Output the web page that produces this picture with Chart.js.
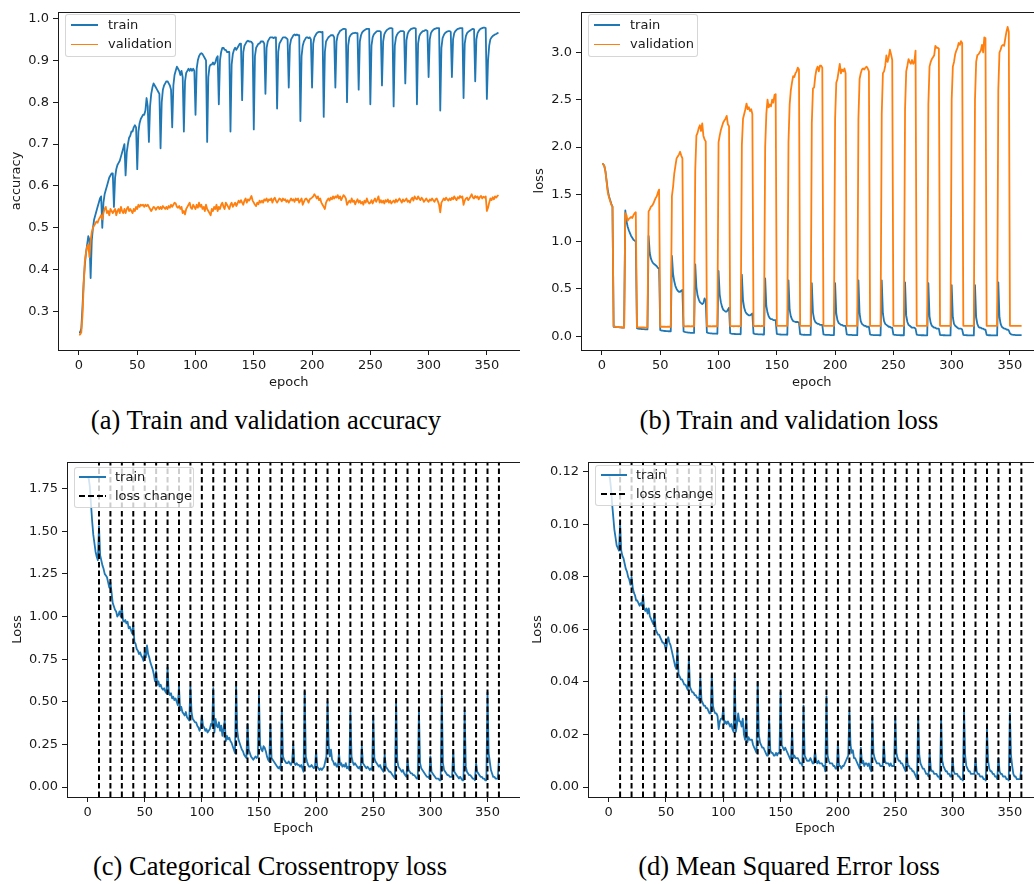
<!DOCTYPE html>
<html>
<head>
<meta charset="utf-8">
<script src="https://cdn.jsdelivr.net/npm/chart.js@4.4.2/dist/chart.umd.min.js"></script>
<style>
  html, body { margin: 0; padding: 0; background: #fff; overflow: hidden; }
  body { width: 1034px; height: 884px; position: relative; }
  canvas { position: absolute; }
  .legend { position: absolute; box-sizing: border-box; border: 1px solid rgba(204,204,204,0.8); border-radius: 3px;
            background: rgba(255,255,255,0.8); font-family: "DejaVu Sans", sans-serif; font-size: 13px; color: #1a1a1a; z-index: 2; }
  .legend .sw { position: absolute; height: 1.8px; }
  .legend .lb { position: absolute; line-height: 16px; white-space: nowrap; }
  .caption { position: absolute; width: 600px; text-align: center; font-family: "Liberation Serif", "Times New Roman", serif;
             font-size: 26.5px; line-height: 30px; color: #000; }
</style>
</head>
<body>
<canvas id="chartA" width="520" height="400" style="left:0px;top:0px"></canvas>
<canvas id="chartB" width="540" height="400" style="left:520px;top:0px"></canvas>
<canvas id="chartC" width="520" height="400" style="left:0px;top:450px"></canvas>
<canvas id="chartD" width="540" height="400" style="left:520px;top:450px"></canvas>

<div class="caption" style="left:-34px;top:405px">(a) Train and validation accuracy</div>
<div class="caption" style="left:489px;top:405px">(b) Train and validation loss</div>
<div class="caption" style="left:-30px;top:851px">(c) Categorical Crossentropy loss</div>
<div class="caption" style="left:489px;top:851px">(d) Mean Squared Error loss</div>

<script>
// ---- data (one value per epoch, 0..360) ----
const accTrain = [
  0.25,0.25,0.26,0.31,0.37,0.41,0.44,0.46,0.48,0.47,
  0.38,0.47,0.50,0.52,0.53,0.54,0.55,0.56,0.57,0.575,
  0.50,0.56,0.58,0.59,0.60,0.61,0.62,0.625,0.63,0.63,
  0.55,0.62,0.64,0.65,0.655,0.66,0.67,0.68,0.69,0.70,
  0.625,0.68,0.70,0.715,0.72,0.73,0.73,0.74,0.745,0.74,
  0.64,0.73,0.75,0.76,0.765,0.77,0.77,0.78,0.81,0.79,
  0.705,0.79,0.82,0.835,0.845,0.84,0.835,0.83,0.825,0.82,
  0.69,0.80,0.83,0.84,0.845,0.85,0.85,0.845,0.84,0.83,
  0.74,0.84,0.865,0.875,0.885,0.88,0.875,0.865,0.875,0.86,
  0.73,0.85,0.87,0.875,0.88,0.875,0.88,0.875,0.88,0.875,
  0.77,0.88,0.90,0.91,0.915,0.917,0.915,0.91,0.905,0.90,
  0.705,0.86,0.885,0.89,0.89,0.895,0.89,0.895,0.905,0.91,
  0.795,0.90,0.92,0.93,0.93,0.925,0.925,0.92,0.92,0.92,
  0.73,0.89,0.915,0.925,0.93,0.925,0.93,0.935,0.94,0.94,
  0.805,0.92,0.935,0.94,0.945,0.947,0.945,0.945,0.944,0.94,
  0.735,0.91,0.93,0.935,0.94,0.94,0.945,0.945,0.945,0.94,
  0.82,0.93,0.945,0.95,0.955,0.955,0.955,0.953,0.955,0.955,
  0.785,0.92,0.94,0.945,0.95,0.955,0.955,0.955,0.953,0.95,
  0.835,0.935,0.95,0.955,0.96,0.962,0.96,0.962,0.96,0.96,
  0.755,0.91,0.935,0.945,0.95,0.955,0.955,0.953,0.955,0.95,
  0.835,0.94,0.955,0.96,0.965,0.967,0.968,0.968,0.967,0.968,
  0.765,0.92,0.945,0.95,0.955,0.957,0.96,0.96,0.96,0.955,
  0.835,0.945,0.96,0.965,0.97,0.972,0.974,0.975,0.975,0.974,
  0.80,0.935,0.955,0.96,0.963,0.965,0.965,0.966,0.965,0.965,
  0.83,0.945,0.96,0.967,0.97,0.972,0.974,0.975,0.975,0.975,
  0.795,0.935,0.955,0.962,0.965,0.968,0.97,0.97,0.97,0.968,
  0.84,0.945,0.962,0.968,0.972,0.974,0.976,0.977,0.977,0.976,
  0.79,0.935,0.955,0.962,0.966,0.968,0.97,0.97,0.97,0.968,
  0.845,0.948,0.963,0.969,0.972,0.975,0.976,0.977,0.977,0.976,
  0.795,0.94,0.958,0.964,0.967,0.97,0.97,0.972,0.972,0.97,
  0.86,0.95,0.965,0.97,0.973,0.975,0.976,0.977,0.977,0.977,
  0.78,0.93,0.953,0.96,0.965,0.967,0.969,0.97,0.97,0.968,
  0.86,0.95,0.965,0.97,0.973,0.975,0.976,0.977,0.977,0.977,
  0.81,0.94,0.958,0.965,0.968,0.97,0.972,0.974,0.975,0.974,
  0.85,0.95,0.965,0.97,0.974,0.976,0.977,0.978,0.978,0.977,
  0.808,0.90,0.935,0.95,0.955,0.958,0.96,0.962,0.963,0.965,
  0.966
];
const accVal = [
  0.245,0.245,0.25,0.29,0.36,0.42,0.44,0.455,0.46,0.43,
  0.47,0.49,0.50,0.505,0.51,0.515,0.512,0.52,0.525,0.53,
  0.52,0.535,0.545,0.55,0.535,0.54,0.53,0.545,0.54,0.535,
  0.54,0.545,0.53,0.54,0.545,0.535,0.55,0.54,0.535,0.545,
  0.535,0.545,0.55,0.54,0.545,0.54,0.535,0.545,0.54,0.55,
  0.545,0.555,0.55,0.555,0.553,0.555,0.55,0.555,0.552,0.555,
  0.55,0.545,0.54,0.545,0.55,0.548,0.543,0.548,0.55,0.545,
  0.55,0.545,0.552,0.548,0.545,0.55,0.545,0.552,0.548,0.555,
  0.55,0.555,0.56,0.558,0.55,0.548,0.552,0.545,0.55,0.535,
  0.54,0.532,0.545,0.55,0.555,0.56,0.548,0.545,0.555,0.55,
  0.545,0.555,0.548,0.56,0.55,0.555,0.545,0.55,0.54,0.555,
  0.545,0.54,0.535,0.53,0.545,0.54,0.55,0.545,0.555,0.54,
  0.55,0.545,0.555,0.56,0.55,0.545,0.56,0.555,0.55,0.545,
  0.555,0.56,0.55,0.555,0.56,0.552,0.558,0.565,0.56,0.566,
  0.56,0.555,0.565,0.57,0.56,0.568,0.565,0.57,0.576,0.565,
  0.56,0.555,0.552,0.56,0.556,0.565,0.56,0.565,0.56,0.568,
  0.565,0.57,0.562,0.568,0.566,0.57,0.56,0.568,0.572,0.565,
  0.56,0.565,0.57,0.568,0.563,0.57,0.566,0.568,0.562,0.566,
  0.56,0.565,0.57,0.565,0.568,0.562,0.57,0.566,0.57,0.56,
  0.565,0.57,0.555,0.562,0.568,0.57,0.566,0.56,0.568,0.57,
  0.572,0.575,0.58,0.576,0.57,0.575,0.566,0.57,0.56,0.555,
  0.55,0.545,0.56,0.566,0.57,0.565,0.572,0.568,0.575,0.57,
  0.575,0.572,0.578,0.57,0.575,0.566,0.572,0.578,0.575,0.57,
  0.555,0.56,0.565,0.56,0.57,0.562,0.565,0.556,0.563,0.568,
  0.56,0.565,0.558,0.562,0.555,0.565,0.56,0.57,0.562,0.558,
  0.56,0.566,0.558,0.565,0.57,0.562,0.568,0.575,0.56,0.566,
  0.56,0.565,0.558,0.566,0.562,0.568,0.56,0.565,0.558,0.562,
  0.565,0.56,0.568,0.562,0.566,0.57,0.565,0.56,0.568,0.563,
  0.566,0.57,0.562,0.565,0.56,0.568,0.572,0.565,0.575,0.57,
  0.568,0.575,0.57,0.566,0.572,0.568,0.562,0.566,0.57,0.565,
  0.562,0.568,0.565,0.57,0.566,0.562,0.568,0.57,0.563,0.555,
  0.537,0.56,0.565,0.57,0.566,0.572,0.568,0.565,0.57,0.566,
  0.572,0.568,0.575,0.57,0.566,0.573,0.57,0.576,0.572,0.575,
  0.555,0.565,0.57,0.572,0.566,0.57,0.575,0.58,0.572,0.57,
  0.576,0.572,0.575,0.568,0.573,0.576,0.57,0.574,0.572,0.575,
  0.54,0.548,0.56,0.57,0.566,0.573,0.568,0.575,0.572,0.576,
  0.578
];
const lossTrain = [
  1.82,1.82,1.80,1.74,1.64,1.54,1.48,1.44,1.40,1.37,
  0.10,0.10,0.097,0.096,0.095,0.094,0.093,0.092,0.091,0.09,
  1.33,1.22,1.16,1.12,1.09,1.06,1.04,1.02,1.01,1.00,
  0.085,0.08,0.078,0.077,0.076,0.075,0.074,0.073,0.072,0.072,
  1.06,0.88,0.82,0.79,0.77,0.76,0.75,0.74,0.72,0.72,
  0.065,0.06,0.058,0.056,0.055,0.054,0.053,0.052,0.052,0.05,
  0.85,0.66,0.58,0.53,0.50,0.48,0.47,0.47,0.48,0.49,
  0.05,0.045,0.042,0.04,0.038,0.037,0.036,0.035,0.035,0.034,
  0.76,0.52,0.43,0.39,0.36,0.35,0.34,0.35,0.40,0.37,
  0.04,0.035,0.032,0.03,0.029,0.028,0.028,0.027,0.027,0.026,
  0.69,0.44,0.36,0.31,0.28,0.27,0.26,0.26,0.28,0.30,
  0.032,0.028,0.025,0.024,0.023,0.022,0.022,0.021,0.021,0.02,
  0.65,0.38,0.30,0.26,0.24,0.23,0.22,0.22,0.23,0.24,
  0.03,0.025,0.022,0.021,0.02,0.02,0.019,0.019,0.018,0.018,
  0.61,0.32,0.25,0.21,0.19,0.18,0.18,0.17,0.17,0.17,
  0.025,0.021,0.019,0.018,0.017,0.017,0.016,0.016,0.016,0.015,
  0.59,0.28,0.21,0.18,0.16,0.155,0.15,0.15,0.15,0.145,
  0.022,0.018,0.016,0.015,0.015,0.014,0.014,0.014,0.013,0.013,
  0.56,0.25,0.18,0.15,0.14,0.13,0.13,0.12,0.12,0.12,
  0.02,0.016,0.015,0.014,0.013,0.013,0.012,0.012,0.012,0.012,
  0.56,0.24,0.17,0.14,0.13,0.12,0.12,0.11,0.11,0.11,
  0.02,0.016,0.014,0.013,0.013,0.012,0.012,0.011,0.011,0.011,
  0.59,0.24,0.16,0.13,0.12,0.11,0.11,0.10,0.10,0.10,
  0.018,0.015,0.013,0.012,0.012,0.011,0.011,0.011,0.01,0.01,
  0.59,0.24,0.16,0.13,0.12,0.11,0.10,0.10,0.09,0.09,
  0.018,0.014,0.013,0.012,0.011,0.011,0.01,0.01,0.01,0.01,
  0.57,0.22,0.15,0.12,0.11,0.10,0.09,0.09,0.09,0.08,
  0.016,0.013,0.012,0.011,0.01,0.01,0.01,0.009,0.009,0.009,
  0.56,0.21,0.14,0.11,0.10,0.09,0.09,0.08,0.08,0.08,
  0.015,0.012,0.011,0.01,0.01,0.009,0.009,0.009,0.008,0.008,
  0.54,0.20,0.13,0.11,0.10,0.09,0.08,0.08,0.08,0.07,
  0.015,0.012,0.011,0.01,0.009,0.009,0.009,0.008,0.008,0.008,
  0.54,0.20,0.13,0.10,0.09,0.09,0.08,0.08,0.07,0.07,
  0.014,0.012,0.01,0.01,0.009,0.009,0.008,0.008,0.008,0.008,
  0.57,0.20,0.13,0.10,0.09,0.08,0.08,0.07,0.07,0.06,
  0.03,0.02,0.016,0.014,0.013,0.012,0.012,0.011,0.011,0.011,
  0.011
];
const lossVal = [
  1.82,1.82,1.80,1.74,1.63,1.52,1.47,1.43,1.39,1.37,
  0.105,0.10,0.098,0.097,0.096,0.095,0.094,0.093,0.092,0.09,
  1.30,1.28,1.22,1.24,1.25,1.26,1.25,1.28,1.30,1.31,
  0.095,0.094,0.093,0.093,0.092,0.092,0.092,0.091,0.091,0.09,
  1.32,1.34,1.37,1.38,1.40,1.43,1.46,1.48,1.52,1.55,
  0.10,0.10,0.101,0.10,0.10,0.099,0.10,0.10,0.10,0.10,
  1.48,1.58,1.72,1.80,1.88,1.90,1.92,1.95,1.91,1.88,
  0.105,0.105,0.104,0.105,0.105,0.105,0.104,0.105,0.105,0.105,
  1.75,2.12,2.15,2.20,2.23,2.17,2.25,2.12,2.08,2.06,
  0.106,0.105,0.105,0.105,0.104,0.105,0.105,0.105,0.105,0.105,
  2.05,2.12,2.18,2.22,2.26,2.28,2.30,2.33,2.24,2.22,
  0.107,0.106,0.106,0.105,0.106,0.106,0.106,0.105,0.106,0.106,
  2.02,2.30,2.35,2.40,2.46,2.40,2.42,2.38,2.40,2.35,
  0.108,0.108,0.107,0.108,0.108,0.108,0.107,0.108,0.108,0.108,
  2.00,2.35,2.50,2.42,2.45,2.43,2.50,2.47,2.55,2.56,
  0.11,0.11,0.109,0.11,0.11,0.11,0.11,0.109,0.11,0.11,
  2.05,2.45,2.60,2.68,2.75,2.74,2.78,2.80,2.84,2.82,
  0.11,0.11,0.11,0.11,0.109,0.11,0.11,0.11,0.11,0.11,
  2.25,2.62,2.63,2.75,2.82,2.85,2.80,2.86,2.86,2.84,
  0.11,0.11,0.11,0.109,0.11,0.11,0.11,0.11,0.11,0.11,
  2.30,2.68,2.72,2.80,2.88,2.78,2.82,2.80,2.83,2.78,
  0.11,0.11,0.11,0.11,0.11,0.109,0.11,0.11,0.11,0.11,
  2.30,2.72,2.78,2.82,2.83,2.82,2.84,2.85,2.83,2.80,
  0.11,0.11,0.11,0.11,0.11,0.11,0.11,0.109,0.11,0.11,
  2.35,2.78,2.80,2.86,2.97,2.90,2.95,3.03,2.98,2.92,
  0.11,0.11,0.11,0.11,0.11,0.11,0.109,0.11,0.11,0.11,
  2.40,2.80,2.86,2.93,2.90,2.88,2.92,2.88,2.90,3.02,
  0.11,0.11,0.11,0.11,0.109,0.11,0.11,0.11,0.11,0.11,
  2.45,2.85,2.90,2.93,2.95,2.97,3.07,3.05,3.05,3.04,
  0.11,0.11,0.11,0.11,0.11,0.11,0.11,0.11,0.109,0.11,
  2.50,2.85,2.90,2.98,3.02,3.05,3.10,3.08,3.12,3.10,
  0.11,0.11,0.109,0.11,0.11,0.11,0.11,0.11,0.11,0.11,
  2.50,2.90,2.97,2.98,3.00,3.02,3.08,3.00,3.16,3.15,
  0.11,0.11,0.11,0.11,0.11,0.109,0.11,0.11,0.11,0.11,
  2.60,3.00,3.03,3.07,3.08,3.07,3.15,3.22,3.27,3.22,
  0.11,0.11,0.11,0.11,0.11,0.11,0.11,0.11,0.11,0.11,
  0.11
];
const cceTrain = [
  1.81,1.81,1.76,1.66,1.56,1.48,1.43,1.38,1.35,1.33,
  1.53,1.36,1.33,1.30,1.28,1.25,1.24,1.23,1.20,1.17,
  1.20,1.14,1.08,1.06,1.04,1.03,1.00,1.01,1.03,1.00,
  1.06,0.98,0.97,0.98,0.96,0.97,0.93,0.94,0.92,0.90,
  0.95,0.85,0.84,0.81,0.80,0.78,0.79,0.77,0.76,0.74,
  0.79,0.76,0.83,0.78,0.76,0.73,0.71,0.69,0.66,0.62,
  0.68,0.60,0.62,0.59,0.60,0.58,0.57,0.58,0.56,0.55,
  0.70,0.56,0.54,0.55,0.52,0.53,0.51,0.52,0.50,0.48,
  0.59,0.45,0.47,0.44,0.43,0.42,0.44,0.41,0.40,0.39,
  0.59,0.44,0.40,0.39,0.38,0.38,0.36,0.35,0.33,0.35,
  0.42,0.36,0.35,0.33,0.34,0.32,0.33,0.34,0.37,0.36,
  0.58,0.32,0.40,0.36,0.35,0.38,0.33,0.36,0.30,0.34,
  0.39,0.27,0.30,0.28,0.29,0.27,0.26,0.24,0.22,0.20,
  0.59,0.33,0.28,0.26,0.24,0.22,0.21,0.19,0.18,0.17,
  0.37,0.22,0.20,0.18,0.17,0.16,0.17,0.18,0.17,0.18,
  0.54,0.25,0.22,0.21,0.24,0.23,0.21,0.18,0.16,0.15,
  0.37,0.17,0.16,0.15,0.14,0.13,0.12,0.11,0.12,0.10,
  0.47,0.18,0.16,0.15,0.14,0.14,0.15,0.14,0.13,0.15,
  0.25,0.14,0.13,0.14,0.13,0.13,0.12,0.13,0.11,0.09,
  0.56,0.18,0.15,0.13,0.12,0.12,0.13,0.12,0.11,0.12,
  0.21,0.12,0.11,0.10,0.11,0.10,0.11,0.12,0.15,0.18,
  0.50,0.25,0.18,0.22,0.16,0.15,0.13,0.14,0.12,0.12,
  0.20,0.13,0.14,0.12,0.13,0.12,0.14,0.11,0.12,0.10,
  0.44,0.18,0.15,0.13,0.14,0.13,0.12,0.11,0.12,0.10,
  0.24,0.14,0.13,0.12,0.11,0.12,0.11,0.10,0.11,0.10,
  0.42,0.17,0.15,0.14,0.13,0.12,0.13,0.11,0.10,0.09,
  0.19,0.12,0.11,0.10,0.09,0.09,0.08,0.07,0.06,0.05,
  0.50,0.16,0.12,0.11,0.10,0.09,0.10,0.08,0.07,0.06,
  0.16,0.10,0.09,0.08,0.08,0.07,0.07,0.06,0.05,0.05,
  0.45,0.14,0.11,0.10,0.09,0.08,0.07,0.06,0.06,0.05,
  0.18,0.09,0.08,0.07,0.06,0.05,0.05,0.05,0.04,0.04,
  0.535,0.14,0.10,0.09,0.08,0.07,0.07,0.06,0.06,0.06,
  0.215,0.09,0.08,0.07,0.06,0.05,0.06,0.05,0.04,0.04,
  0.45,0.12,0.09,0.08,0.07,0.07,0.06,0.05,0.05,0.04,
  0.14,0.09,0.08,0.07,0.06,0.06,0.05,0.05,0.04,0.04,
  0.555,0.20,0.15,0.10,0.08,0.06,0.06,0.05,0.05,0.05,
  0.17
];
const mseTrain = [
  0.118,0.118,0.114,0.108,0.103,0.098,0.095,0.092,0.091,0.090,
  0.100,0.090,0.088,0.087,0.085,0.083,0.082,0.080,0.079,0.077,
  0.080,0.076,0.074,0.073,0.071,0.071,0.070,0.069,0.070,0.069,
  0.073,0.068,0.067,0.068,0.066,0.068,0.065,0.064,0.063,0.062,
  0.066,0.060,0.059,0.058,0.058,0.057,0.056,0.055,0.055,0.054,
  0.052,0.055,0.057,0.055,0.054,0.052,0.050,0.048,0.046,0.045,
  0.052,0.043,0.042,0.041,0.041,0.040,0.039,0.039,0.038,0.037,
  0.049,0.038,0.037,0.036,0.036,0.035,0.035,0.034,0.034,0.033,
  0.0415,0.033,0.032,0.031,0.031,0.030,0.030,0.029,0.028,0.028,
  0.043,0.031,0.029,0.028,0.028,0.027,0.022,0.025,0.026,0.026,
  0.030,0.024,0.025,0.024,0.025,0.024,0.023,0.024,0.022,0.021,
  0.0415,0.021,0.024,0.028,0.025,0.025,0.023,0.026,0.020,0.018,
  0.027,0.017,0.019,0.018,0.018,0.018,0.016,0.015,0.014,0.013,
  0.040,0.020,0.017,0.016,0.015,0.015,0.014,0.013,0.012,0.012,
  0.026,0.014,0.013,0.013,0.012,0.012,0.013,0.012,0.013,0.013,
  0.036,0.016,0.015,0.014,0.015,0.014,0.013,0.012,0.011,0.010,
  0.022,0.011,0.012,0.011,0.011,0.011,0.010,0.009,0.009,0.008,
  0.031,0.012,0.011,0.010,0.010,0.010,0.011,0.010,0.009,0.009,
  0.014,0.010,0.009,0.010,0.009,0.009,0.009,0.008,0.008,0.006,
  0.0345,0.012,0.010,0.009,0.009,0.009,0.008,0.008,0.007,0.007,
  0.017,0.008,0.008,0.007,0.008,0.008,0.009,0.010,0.011,0.012,
  0.029,0.016,0.013,0.014,0.011,0.011,0.010,0.009,0.008,0.007,
  0.015,0.009,0.010,0.008,0.009,0.009,0.008,0.009,0.007,0.006,
  0.0265,0.013,0.011,0.010,0.009,0.009,0.009,0.008,0.008,0.008,
  0.017,0.010,0.009,0.009,0.009,0.008,0.009,0.008,0.008,0.008,
  0.027,0.013,0.011,0.010,0.010,0.009,0.009,0.008,0.007,0.006,
  0.014,0.008,0.008,0.007,0.007,0.006,0.006,0.005,0.004,0.003,
  0.027,0.012,0.009,0.008,0.007,0.007,0.006,0.005,0.005,0.004,
  0.013,0.007,0.006,0.006,0.005,0.005,0.005,0.004,0.004,0.003,
  0.026,0.010,0.008,0.007,0.006,0.006,0.005,0.005,0.004,0.004,
  0.011,0.006,0.005,0.005,0.005,0.004,0.004,0.003,0.003,0.0025,
  0.029,0.012,0.008,0.007,0.006,0.006,0.005,0.005,0.005,0.005,
  0.011,0.006,0.005,0.005,0.004,0.004,0.004,0.003,0.003,0.0025,
  0.022,0.010,0.007,0.006,0.006,0.005,0.005,0.004,0.004,0.003,
  0.011,0.006,0.005,0.005,0.004,0.004,0.004,0.003,0.003,0.0025,
  0.028,0.012,0.008,0.005,0.004,0.004,0.003,0.003,0.003,0.003,
  0.008
];
const lossChangeEpochs = [10,20,30,40,50,60,70,80,90,100,110,120,130,140,150,160,170,180,
                          190,200,210,220,230,240,250,260,270,280,290,300,310,320,330,340,350,360];

// tick labels
const xTicks = [0, 50, 100, 150, 200, 250, 300, 350];
const yTicksA = [0.3, 0.4, 0.5, 0.6, 0.7, 0.8, 0.9, 1.0];
const yTicksB = [0.0, 0.5, 1.0, 1.5, 2.0, 2.5, 3.0];
const yTicksC = [0.00, 0.25, 0.50, 0.75, 1.00, 1.25, 1.50, 1.75];
const yTicksD = [0.00, 0.02, 0.04, 0.06, 0.08, 0.10, 0.12];

// axis limits (matplotlib-like 5% margins)
const xMin = -18, xMax = 378;

const blue = '#1f77b4', orange = '#ff7f0e';
const textColor = '#1a1a1a';
const tickFont = { family: 'DejaVu Sans', size: 13 };
const titleFont = { family: 'DejaVu Sans', size: 13 };

const pts = arr => arr.map((y, i) => ({ x: i, y: y }));
function vlines(xs, lo, hi) {
  const d = [];
  xs.forEach(x => { d.push({ x: x, y: lo }, { x: x, y: hi }, { x: x, y: null }); });
  return d;
}

// draws the full box around the plot area, like matplotlib spines
const framePlugin = {
  id: 'frame',
  afterDatasetsDraw(chart) {
    const a = chart.chartArea, ctx = chart.ctx;
    ctx.save();
    ctx.strokeStyle = textColor;
    ctx.lineWidth = 1;
    ctx.strokeRect(Math.round(a.left) + 0.5, Math.round(a.top) + 0.5,
                   Math.round(a.right - a.left), Math.round(a.bottom - a.top));
    ctx.restore();
  }
};

function makeChart(id, cfg) {
  const canvas = document.getElementById(id);
  const W = canvas.width, H = canvas.height;
  const off = 4 + 13 * 1.2 / 2;  // title padding + half line height
  const padLeft = cfg.yTitleX - off;
  const scaleBottom = cfg.xTitleY + off;
  const p = cfg.plot;
  return new Chart(canvas, {
    type: 'line',
    data: { datasets: cfg.datasets },
    options: {
      responsive: false,
      animation: false,
      events: [],
      layout: { padding: { left: padLeft, top: p.top, right: W - p.right, bottom: H - scaleBottom } },
      plugins: { legend: { display: false }, tooltip: { enabled: false } },
      elements: { point: { radius: 0 }, line: { tension: 0, borderJoinStyle: 'round' } },
      scales: {
        x: {
          type: 'linear', min: xMin, max: xMax,
          afterBuildTicks: s => { s.ticks = xTicks.map(v => ({ value: v })); },
          afterFit: s => { s.height = scaleBottom - p.bottom; },
          ticks: { font: tickFont, color: textColor, padding: 3, maxRotation: 0, autoSkip: false,
                   callback: v => String(v) },
          grid: { display: true, drawOnChartArea: false, drawTicks: true, tickLength: 5,
                  tickColor: textColor, tickWidth: 1 },
          border: { display: false },
          title: { display: true, text: cfg.xTitle, font: titleFont, color: textColor, padding: 4 }
        },
        y: {
          type: 'linear', min: cfg.yMin, max: cfg.yMax,
          afterBuildTicks: s => { s.ticks = cfg.yTicks.map(v => ({ value: v })); },
          afterFit: s => { s.width = p.left - padLeft; },
          ticks: { font: tickFont, color: textColor, padding: 4, autoSkip: false,
                   callback: v => Number(v).toFixed(cfg.dec) },
          grid: { display: true, drawOnChartArea: false, drawTicks: true, tickLength: 5,
                  tickColor: textColor, tickWidth: 1 },
          border: { display: false },
          title: { display: true, text: cfg.yTitle, font: titleFont, color: textColor, padding: 4 }
        }
      }
    },
    plugins: [framePlugin]
  });
}

function makeLegend(box, items) {
  const el = document.createElement('div');
  el.className = 'legend';
  el.style.left = box.left + 'px';
  el.style.top = box.top + 'px';
  el.style.width = box.width + 'px';
  el.style.height = box.height + 'px';
  items.forEach(it => {
    const sw = document.createElement('div');
    sw.className = 'sw';
    sw.style.left = box.lineX0 + 'px';
    sw.style.width = (box.lineX1 - box.lineX0) + 'px';
    sw.style.top = (it.y - 0.9) + 'px';
    sw.style.background = it.dash
      ? 'repeating-linear-gradient(to right, ' + it.color + ' 0 6px, transparent 6px 8.8px)'
      : it.color;
    el.appendChild(sw);
    const lb = document.createElement('span');
    lb.className = 'lb';
    lb.style.left = box.textX + 'px';
    lb.style.top = (it.y - 8.5) + 'px';
    lb.textContent = it.label;
    el.appendChild(lb);
  });
  document.body.appendChild(el);
}

const lw = 1.8;

// (a) accuracy
makeChart('chartA', {
  plot: { left: 58, top: 7, right: 519.5, bottom: 350 }, yTitleX: 17, xTitleY: 383,
  yMin: 0.208, yMax: 1.016, yTicks: yTicksA, dec: 1, xTitle: 'epoch', yTitle: 'accuracy',
  datasets: [
    { label: 'validation', data: pts(accVal), borderColor: orange, borderWidth: lw, order: 0 },
    { label: 'train', data: pts(accTrain), borderColor: blue, borderWidth: lw, order: 1 }
  ]
});
// (b) loss
makeChart('chartB', {
  plot: { left: 61, top: 7, right: 522.6, bottom: 350 }, yTitleX: 19.5, xTitleY: 383,
  yMin: -0.146, yMax: 3.43, yTicks: yTicksB, dec: 1, xTitle: 'epoch', yTitle: 'loss',
  datasets: [
    { label: 'validation', data: pts(lossVal), borderColor: orange, borderWidth: lw, order: 0 },
    { label: 'train', data: pts(lossTrain), borderColor: blue, borderWidth: lw, order: 1 }
  ]
});
// (c) categorical crossentropy
makeChart('chartC', {
  plot: { left: 67, top: 9, right: 519.5, bottom: 347 }, yTitleX: 18, xTitleY: 379,
  yMin: -0.058, yMax: 1.907, yTicks: yTicksC, dec: 2, xTitle: 'Epoch', yTitle: 'Loss',
  datasets: [
    { label: 'loss change', data: vlines(lossChangeEpochs, -0.058, 1.907), borderColor: '#000',
      borderWidth: 2, borderDash: [5.5, 3], spanGaps: false, order: 0 },
    { label: 'train', data: pts(cceTrain), borderColor: blue, borderWidth: lw, order: 1 }
  ]
});
// (d) mean squared error
makeChart('chartD', {
  plot: { left: 68, top: 8, right: 522, bottom: 347 }, yTitleX: 18, xTitleY: 379,
  yMin: -0.0038, yMax: 0.1238, yTicks: yTicksD, dec: 2, xTitle: 'Epoch', yTitle: 'Loss',
  datasets: [
    { label: 'loss change', data: vlines(lossChangeEpochs, -0.0038, 0.1238), borderColor: '#000',
      borderWidth: 2, borderDash: [5.5, 3], spanGaps: false, order: 0 },
    { label: 'train', data: pts(mseTrain), borderColor: blue, borderWidth: lw, order: 1 }
  ]
});

makeLegend({ left: 65, top: 14, width: 111, height: 43, lineX0: 5, lineX1: 32, textX: 42 },
  [{ label: 'train', color: blue, y: 10 }, { label: 'validation', color: orange, y: 29.5 }]);
makeLegend({ left: 588, top: 14, width: 110, height: 43, lineX0: 5, lineX1: 31, textX: 41 },
  [{ label: 'train', color: blue, y: 10 }, { label: 'validation', color: orange, y: 29.5 }]);
makeLegend({ left: 74, top: 467, width: 120, height: 41, lineX0: 4, lineX1: 31, textX: 40 },
  [{ label: 'train', color: blue, y: 9 }, { label: 'loss change', color: '#000', dash: true, y: 28 }]);
makeLegend({ left: 595, top: 465, width: 121, height: 41, lineX0: 5, lineX1: 31, textX: 40 },
  [{ label: 'train', color: blue, y: 9 }, { label: 'loss change', color: '#000', dash: true, y: 28 }]);
</script>
</body>
</html>
